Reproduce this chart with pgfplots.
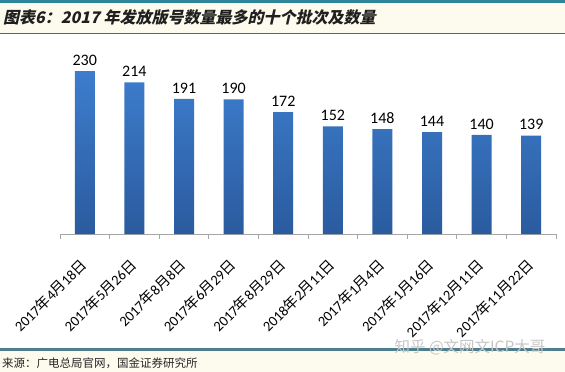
\documentclass[border=0pt]{standalone}
\usepackage{pgfplots}
\pgfplotsset{compat=1.18}
\usepackage{fontspec}
\setmainfont{Carlito}
\newfontfamily\cjk{Noto Sans CJK SC}
\newfontfamily\cjkt{Noto Sans CJK SC}[FakeSlant=0.22]
\definecolor{cream}{HTML}{FDFBEE}
\definecolor{tealtop}{HTML}{2F8599}
\definecolor{tealline}{HTML}{3F6F7E}
\definecolor{tealbot}{HTML}{4E7F8E}
\definecolor{barTop}{HTML}{3D7DCD}
\definecolor{barBot}{HTML}{2A5B9E}
\begin{document}
\begin{tikzpicture}
\useasboundingbox (0,0) rectangle (565pt,-372pt);
\fill[cream] (0,0) rectangle (565pt,-33pt);
\fill[white] (0,-33pt) rectangle (565pt,-349pt);
\fill[cream] (0,-349pt) rectangle (565pt,-372pt);
\draw[tealtop, line width=3pt] (0,-1.5pt) -- (565pt,-1.5pt);
\draw[tealline, line width=1pt] (0,-33pt) -- (565pt,-33pt);
\draw[tealbot, line width=3pt] (0,-349pt) -- (565pt,-349pt);
\node[anchor=west, inner sep=0pt, text=black!88] at (3pt,-17pt) {\cjkt\bfseries\fontsize{16pt}{19pt}\selectfont 图表6：2017 年发放版号数量最多的十个批次及数量};
\node[anchor=west, inner sep=0pt, text=black!85] at (2pt,-363pt) {\cjk\fontsize{11.5pt}{13pt}\selectfont 来源：广电总局官网，国金证券研究所};
\begin{axis}[
  at={(60pt,-234pt)}, anchor=south west,
  width=496pt, height=177pt, scale only axis,
  xmin=-0.5, xmax=9.5, ymin=0, ymax=250,
  axis x line*=bottom, hide y axis,
  x axis line style={gray!70, line width=0.8pt},
  xtick={0,...,9},
  xticklabels={{2017{\cjk 年}4{\cjk 月}18{\cjk 日}},{2017{\cjk 年}5{\cjk 月}26{\cjk 日}},{2017{\cjk 年}8{\cjk 月}8{\cjk 日}},{2017{\cjk 年}6{\cjk 月}29{\cjk 日}},{2017{\cjk 年}8{\cjk 月}29{\cjk 日}},{2018{\cjk 年}2{\cjk 月}11{\cjk 日}},{2017{\cjk 年}1{\cjk 月}4{\cjk 日}},{2017{\cjk 年}1{\cjk 月}16{\cjk 日}},{2017{\cjk 年}12{\cjk 月}11{\cjk 日}},{2017{\cjk 年}11{\cjk 月}22{\cjk 日}}},
  major tick length=0pt,
  xticklabel style={xshift=0pt, yshift=-27pt, rotate=45, anchor=east, inner sep=1pt, font=\rmfamily\fontsize{14.5pt}{17pt}\selectfont, text=black},
  extra x ticks={-0.5,0.5,...,9.5},
  extra x tick labels={},
  extra x tick style={major tick length=5pt, tick align=outside, tick style={gray!70, line width=0.8pt}},
  ybar, bar width=20pt,
  /pgf/number format/assume math mode=true,
  nodes near coords,
  nodes near coords style={font=\fontsize{16pt}{18pt}\selectfont, text=black, yshift=2pt},
  clip=false,
]
\addplot[draw=none, top color=barTop, bottom color=barBot] coordinates {
(0,230) (1,214) (2,191) (3,190) (4,172) (5,152) (6,148) (7,144) (8,140) (9,139)};
\end{axis}
\node[anchor=center, inner sep=0pt, text=gray!45] at (470pt,-347pt) {\cjk\fontsize{15.5pt}{17pt}\selectfont 知乎 @文网文ICP大哥};
\end{tikzpicture}
\end{document}
